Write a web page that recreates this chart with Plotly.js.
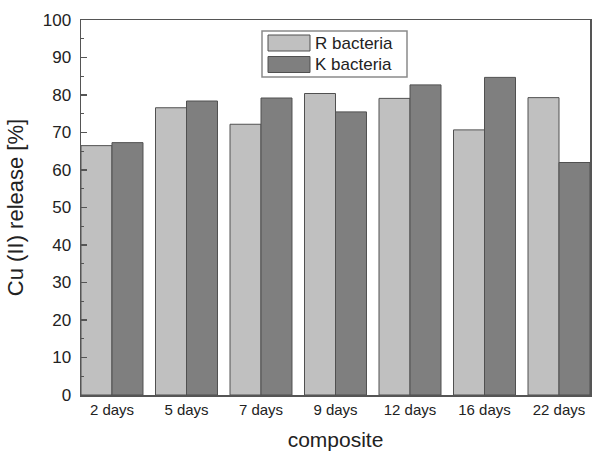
<!DOCTYPE html>
<html>
<head>
<meta charset="utf-8">
<script src="https://cdn.plot.ly/plotly-3.0.1.min.js"></script>
<style>html,body{margin:0;padding:0;background:#fff;}#chart{width:592px;height:454px;}</style>
</head>
<body>
<div id="chart"></div>
<script>
const categories = ["2 days", "5 days", "7 days", "9 days", "12 days", "16 days", "22 days"];
const seriesNames = ["R bacteria", "K bacteria"];
const rValues = [66.5, 76.6, 72.2, 80.4, 79.1, 70.7, 79.3];
const kValues = [67.3, 78.4, 79.2, 75.5, 82.7, 84.7, 62.0];
const yTickVals = [0, 10, 20, 30, 40, 50, 60, 70, 80, 90, 100];

const colors = ["#c0c0c0", "#7f7f7f"];
const font = "Liberation Sans, Arial, sans-serif";

const traces = [rValues, kValues].map((vals, i) => ({
  type: "bar",
  name: seriesNames[i],
  x: categories,
  y: vals,
  marker: {color: colors[i], line: {color: "#505050", width: 1}},
  showlegend: false,
  hoverinfo: "x+y+name"
}));

// custom legend (box + swatches + labels), in paper coordinates
const W = 592 - 81 - 2, H = 454 - 20 - 59;
const px = v => (v - 81) / W;
const py = v => 1 - (v - 20) / H;
const shapes = [{
  type: "rect", xref: "paper", yref: "paper",
  x0: px(262), x1: px(407), y0: py(77), y1: py(31),
  line: {color: "#8a8a8a", width: 1.5}, fillcolor: "#fff"
}];
const annotations = [];
seriesNames.forEach((n, i) => {
  const cy = 43 + i * 21.5;
  shapes.push({
    type: "rect", xref: "paper", yref: "paper",
    x0: px(268), x1: px(310), y0: py(cy + 8), y1: py(cy - 8),
    line: {color: "#505050", width: 1}, fillcolor: colors[i]
  });
  annotations.push({
    xref: "paper", yref: "paper", x: px(313), y: py(cy),
    xanchor: "left", yanchor: "middle", showarrow: false,
    text: n, font: {family: font, size: 17, color: "#222"}
  });
});

const layout = {
  width: 592, height: 454,
  margin: {l: 81, r: 2, t: 20, b: 59},
  paper_bgcolor: "#fff", plot_bgcolor: "#fff",
  barmode: "group", bargap: 0.168, bargroupgap: 0,
  font: {family: font, color: "#222"},
  xaxis: {
    type: "category",
    range: [-0.416, 6.416],
    showline: true, linecolor: "#555", linewidth: 1.5, mirror: true,
    ticks: "", showgrid: false, zeroline: false,
    tickfont: {family: font, size: 15, color: "#222"},
    title: {text: "composite", font: {family: font, size: 21, color: "#222"}, standoff: 16}
  },
  yaxis: {
    range: [0, 100],
    tickvals: yTickVals,
    ticks: "inside", ticklen: 6, tickwidth: 1.2, tickcolor: "#555",
    ticklabelstandoff: 5,
    minor: {dtick: 5, ticks: "inside", ticklen: 3, tickwidth: 1, tickcolor: "#555", showgrid: false},
    showline: true, linecolor: "#555", linewidth: 1.5, mirror: true,
    showgrid: false, zeroline: false,
    tickfont: {family: font, size: 17, color: "#222"},
    title: {text: "Cu (II) release [%]", font: {family: font, size: 22, color: "#222"}, standoff: 13}
  },
  shapes: shapes,
  annotations: annotations
};

Plotly.newPlot("chart", traces, layout, {staticPlot: true, displayModeBar: false});
</script>
</body>
</html>
